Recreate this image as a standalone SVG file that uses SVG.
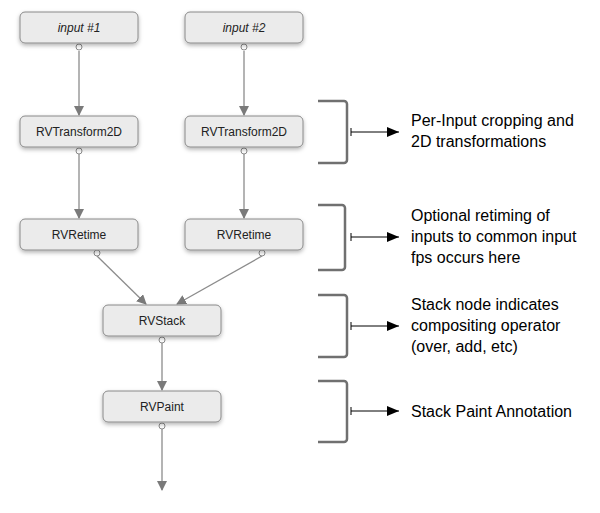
<svg xmlns="http://www.w3.org/2000/svg" width="600" height="513" viewBox="0 0 600 513">
<style>
.n rect{fill:#ebebeb;stroke:#8a8a8a;stroke-width:1;filter:url(#sh)}
.n text{font-family:"Liberation Sans",Arial,sans-serif;font-size:12px;fill:#222;text-anchor:middle}
.c line{stroke:#8c8c8c;stroke-width:1.3}
.c circle{fill:#fff;stroke:#8c8c8c;stroke-width:1}
.b{fill:none;stroke:#707070;stroke-width:2.5}
.a{stroke:#000;stroke-width:1}
.t{font-family:"Liberation Sans",Arial,sans-serif;font-size:16px;fill:#000}
</style>
<defs>
<filter id="sh" x="-20%" y="-30%" width="140%" height="170%"><feDropShadow dx="0" dy="2" stdDeviation="2" flood-color="#000" flood-opacity="0.3"/></filter>
<marker id="ga" markerWidth="10" markerHeight="10" refX="9" refY="5" orient="auto" markerUnits="userSpaceOnUse"><path d="M0,0L10,5L0,10z" fill="#7a7a7a"/></marker>
<marker id="ba" markerWidth="12" markerHeight="10" refX="12" refY="5" orient="auto" markerUnits="userSpaceOnUse"><path d="M0,0L12,5L0,10z" fill="#000"/></marker>
</defs>
<g class="c" id="connectors">
<line x1="79" y1="51" x2="79" y2="115" marker-end="url(#ga)"/>
<line x1="244" y1="51" x2="244" y2="115" marker-end="url(#ga)"/>
<line x1="79" y1="154" x2="79" y2="218" marker-end="url(#ga)"/>
<line x1="244" y1="154" x2="244" y2="218" marker-end="url(#ga)"/>
<line x1="97" y1="256" x2="146" y2="304" marker-end="url(#ga)"/>
<line x1="262" y1="256" x2="177" y2="304" marker-end="url(#ga)"/>
<line x1="162" y1="343" x2="162" y2="390" marker-end="url(#ga)"/>
<line x1="162" y1="429" x2="162" y2="490" marker-end="url(#ga)"/>
<circle cx="79" cy="47" r="3"/><circle cx="244" cy="47" r="3"/>
<circle cx="79" cy="151" r="3"/><circle cx="244" cy="151" r="3"/>
<circle cx="97" cy="253" r="3"/><circle cx="262" cy="253" r="3"/>
<circle cx="162" cy="340" r="3"/><circle cx="162" cy="426" r="3"/>
</g>
<g class="n" id="input1"><rect x="20" y="12" width="118" height="31" rx="5"/><text x="79" y="32" font-style="italic">input #1</text></g>
<g class="n" id="input2"><rect x="185" y="12" width="118" height="31" rx="5"/><text x="244" y="32" font-style="italic">input #2</text></g>
<g class="n" id="t1"><rect x="20" y="116" width="118" height="31" rx="5"/><text x="79" y="136">RVTransform2D</text></g>
<g class="n" id="t2"><rect x="185" y="116" width="118" height="31" rx="5"/><text x="244" y="136">RVTransform2D</text></g>
<g class="n" id="r1"><rect x="20" y="219" width="118" height="31" rx="5"/><text x="79" y="239">RVRetime</text></g>
<g class="n" id="r2"><rect x="185" y="219" width="118" height="31" rx="5"/><text x="244" y="239">RVRetime</text></g>
<g class="n" id="stack"><rect x="103" y="305" width="118" height="31" rx="5"/><text x="162" y="325">RVStack</text></g>
<g class="n" id="paint"><rect x="103" y="391" width="118" height="31" rx="5"/><text x="162" y="411">RVPaint</text></g>
<g id="annotations">
<path class="b" d="M318,101H344a3,3 0 0 1 3,3V160a3,3 0 0 1 -3,3H318"/>
<path class="b" d="M318,205H342a3,3 0 0 1 3,3V267a3,3 0 0 1 -3,3H318"/>
<path class="b" d="M318,295H344a3,3 0 0 1 3,3V354a3,3 0 0 1 -3,3H318"/>
<path class="b" d="M318,381H344a3,3 0 0 1 3,3V439a3,3 0 0 1 -3,3H318"/>
<g class="a"><line x1="351" y1="132" x2="399" y2="132" marker-end="url(#ba)"/><line x1="351" y1="128" x2="351" y2="136"/>
<line x1="351" y1="237" x2="399" y2="237" marker-end="url(#ba)"/><line x1="351" y1="233" x2="351" y2="241"/>
<line x1="351" y1="326" x2="399" y2="326" marker-end="url(#ba)"/><line x1="351" y1="322" x2="351" y2="330"/>
<line x1="351" y1="411" x2="399" y2="411" marker-end="url(#ba)"/><line x1="351" y1="407" x2="351" y2="415"/></g>
<text class="t" x="411" y="126">Per-Input cropping and</text>
<text class="t" x="411" y="147">2D transformations</text>
<text class="t" x="411" y="221">Optional retiming of</text>
<text class="t" x="411" y="242">inputs to common input</text>
<text class="t" x="411" y="263">fps occurs here</text>
<text class="t" x="411" y="310">Stack node indicates</text>
<text class="t" x="411" y="331">compositing operator</text>
<text class="t" x="411" y="352">(over, add, etc)</text>
<text class="t" x="411" y="417">Stack Paint Annotation</text>
</g>
</svg>
